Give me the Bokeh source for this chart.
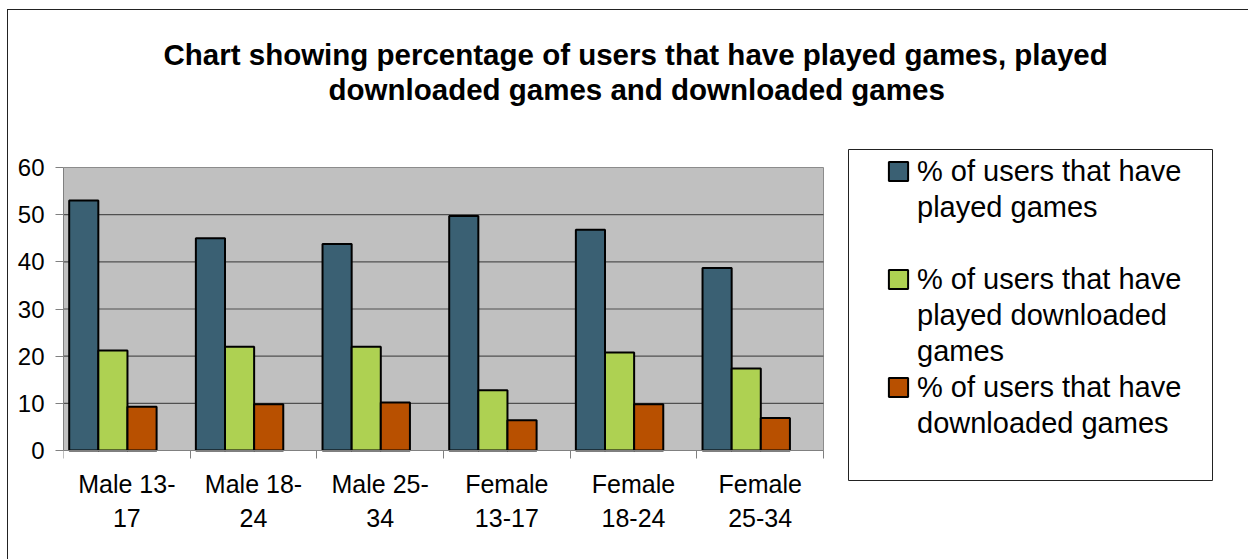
import numpy as np
from bokeh.plotting import figure
from bokeh.models import FixedTicker, Legend, LegendItem, Title, Range1d
from bokeh.embed import file_html
from bokeh.resources import INLINE

categories = ["Male 13-17", "Male 18-24", "Male 25-34",
              "Female 13-17", "Female 18-24", "Female 25-34"]
tick_labels = ["Male 13-\n17", "Male 18-\n24", "Male 25-\n34",
               "Female\n13-17", "Female\n18-24", "Female\n25-34"]
played = [53.0, 45.0, 43.8, 49.7, 46.8, 38.7]
played_downloaded = [21.2, 22.0, 22.0, 12.8, 20.8, 17.4]
downloaded = [9.3, 9.8, 10.2, 6.4, 9.8, 6.9]
series_lines = [["% of users that have", "played games"],
                ["% of users that have", "played downloaded", "games"],
                ["% of users that have", "downloaded games"]]
y_ticks = [0, 10, 20, 30, 40, 50, 60]
title_line1 = "Chart showing percentage of users that have played games, played"
title_line2 = "downloaded games and downloaded games"

FONT = "Liberation Sans"
colors = ["#3A6073", "#AED152", "#B85000"]

n = len(categories)
ymax = max(y_ticks)
# frame extends beyond the plot area so the legend can sit inside it
px_per_x = 760 / n          # plot area is 760 px wide
px_per_y = 283 / ymax       # plot area is 283 px tall
x_hi = n + 396 / px_per_x
y_hi = ymax + 27 / px_per_y
y_lo = -95 / px_per_y

p = figure(width=1241, height=550, x_range=Range1d(0, x_hi),
           y_range=Range1d(y_lo, y_hi), output_backend="svg", toolbar_location=None,
           title=None, min_border_left=55, min_border_right=30,
           min_border_top=130, min_border_bottom=15)
p.styles = {"margin-left": "7px", "margin-top": "9px",
            "border-left": "1px solid #222", "border-top": "1px solid #222"}
p.background_fill_color = "white"
p.border_fill_color = "white"
p.outline_line_color = None
p.grid.visible = False

# plot area background + grid lines
p.quad(left=0, right=n, bottom=0, top=ymax, fill_color="#C0C0C0",
       line_color="#8c8c8c", line_width=1, level="underlay")
gy = y_ticks[1:-1]
p.segment(x0=[0] * len(gy), x1=[n] * len(gy), y0=gy, y1=gy,
          line_color="#505050", line_width=1.2, level="underlay")

# legend frame (pixel offsets from the plot area's right/top/bottom edges)
p.quad(left=n + 25 / px_per_x, right=n + 389 / px_per_x,
       top=ymax + 18 / px_per_y, bottom=-30 / px_per_y,
       fill_color="white", line_color="#222", line_width=1, level="underlay")

idx = np.arange(n)
offsets = [0.16, 0.39, 0.62]
bar_w = 0.23
renderers = []
for vals, off, col in zip([played, played_downloaded, downloaded], offsets, colors):
    r = p.vbar(x=idx + off, top=vals, width=bar_w, fill_color=col,
               line_color="black", line_width=2)
    renderers.append(r)

# x axis at y = 0
xa = p.xaxis[0]
xa.fixed_location = 0
xa.bounds = (0, n)
xa.ticker = FixedTicker(ticks=list(idx + 0.5), minor_ticks=list(range(n + 1)))
xa.major_label_overrides = {float(i + 0.5): lab for i, lab in enumerate(tick_labels)}
xa.major_tick_line_color = None
xa.minor_tick_out = 8
xa.minor_tick_in = 0
xa.minor_tick_line_color = "#808080"
xa.axis_line_color = "#808080"
xa.major_label_text_font = FONT
xa.major_label_text_font_size = "25px"
xa.major_label_text_color = "black"
xa.major_label_text_line_height = 1.22
xa.major_label_standoff = 11

ya = p.yaxis[0]
ya.bounds = (0, ymax)
ya.ticker = FixedTicker(ticks=y_ticks)
ya.major_tick_out = 8
ya.major_tick_in = 0
ya.minor_tick_line_color = None
ya.major_tick_line_color = "#808080"
ya.axis_line_color = "#808080"
ya.major_label_text_font = FONT
ya.major_label_text_font_size = "24px"
ya.major_label_text_color = "black"
ya.major_label_standoff = 11

items = []
for k, (lines, r) in enumerate(zip(series_lines, renderers)):
    for j, line in enumerate(lines):
        items.append(LegendItem(label=line, renderers=[r] if j == 0 else []))
    if k == 0:
        items.append(LegendItem(label=" ", renderers=[]))
legend = Legend(items=items, location=(823, 104), glyph_width=24, glyph_height=24,
                label_text_font=FONT, label_text_font_size="29px", label_text_color="black",
                label_text_line_height=1.0, label_standoff=7,
                padding=0, spacing=0, label_height=36, margin=0,
                border_line_color=None, background_fill_alpha=0)
p.add_layout(legend)

spacer = Title(text=" ", text_font_size="1px", standoff=32)
t2 = Title(text=title_line2, align="left", offset=265, text_font=FONT, text_color="black",
           text_font_size="29.5px", text_font_style="bold", standoff=0)
t1 = Title(text=title_line1, align="left", offset=100, text_font=FONT, text_color="black",
           text_font_size="29.5px", text_font_style="bold", standoff=0)
p.add_layout(spacer, "above")
p.add_layout(t2, "above")
p.add_layout(t1, "above")

open("out.html", "w").write(file_html(p, INLINE))
